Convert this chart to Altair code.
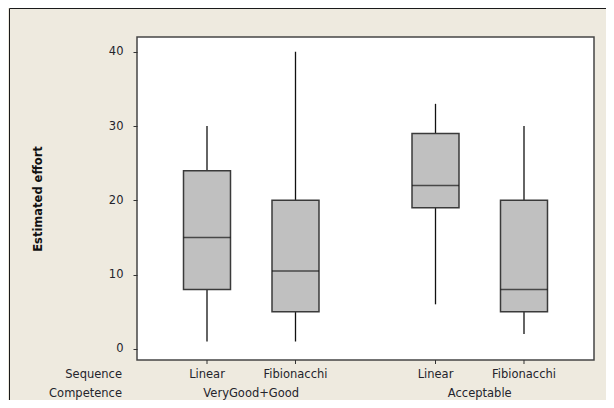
import altair as alt
import pandas as pd

# ---- data ----
competence = ["VeryGood+Good", "VeryGood+Good", "Acceptable", "Acceptable"]
sequence = ["Linear", "Fibionacchi", "Linear", "Fibionacchi"]
whisker_low = [1, 1, 6, 2]
q1 = [8, 5, 19, 5]
median = [15, 10.5, 22, 8]
q3 = [24, 20, 29, 20]
whisker_high = [30, 40, 33, 30]

comp_order = ["VeryGood+Good", "Acceptable"]
seq_order = ["Linear", "Fibionacchi"]
y_ticks = [0, 10, 20, 30, 40]
row_headers = ["Sequence", "Competence"]
y_title = "Estimated effort"

df = pd.DataFrame({
    "competence": competence,
    "sequence": sequence,
    "lo": whisker_low,
    "q1": q1,
    "median": median,
    "q3": q3,
    "hi": whisker_high,
})
comp_df = pd.DataFrame({"competence": comp_order})
one_df = pd.DataFrame({"k": [0]})

W, H = 457, 323
FONT = "DejaVu Sans"
TXT = "#24242c"
FS = 11.5

xenc = alt.X("competence:N", sort=comp_order, axis=None,
             scale=alt.Scale(domain=comp_order, paddingInner=0, paddingOuter=0))
xoff = alt.XOffset("sequence:N", sort=seq_order,
                   scale=alt.Scale(domain=seq_order, paddingInner=0.469, paddingOuter=0.5255))
yscale = alt.Scale(domain=[-1.5, 42], nice=False, zero=False)

base = alt.Chart(df)

whisk = base.mark_rule(color="#111111", strokeWidth=1.3).encode(
    x=xenc, xOffset=xoff,
    y=alt.Y("lo:Q", scale=yscale,
            axis=alt.Axis(values=y_ticks, title=y_title, domain=False, grid=False,
                          tickSize=4, tickColor="#333333", tickWidth=1,
                          labelFont=FONT, labelFontSize=FS, labelColor=TXT, labelPadding=10,
                          titleFont=FONT, titleFontSize=11.5, titleFontWeight="bold",
                          titleColor="#111111", titleAngle=270, titleAlign="center",
                          titleBaseline="bottom", titleX=-94, titleY=H / 2)),
    y2="hi:Q",
)

box = base.mark_bar(fill="#C0C0C0", stroke="#3a3a3a", strokeWidth=1.5).encode(
    x=xenc, xOffset=xoff, y="q1:Q", y2="q3:Q"
)

med = base.mark_tick(color="#151515", thickness=1.5, size=47).encode(
    x=xenc, xOffset=xoff, y="median:Q"
)

xticks = base.mark_rule(color="#333333", strokeWidth=1).encode(
    x=xenc, xOffset=xoff, y=alt.value(H), y2=alt.value(H + 4)
)

seq_text = base.mark_text(font=FONT, fontSize=FS, color=TXT, baseline="alphabetic").encode(
    x=xenc, xOffset=xoff, y=alt.value(H + 18), text="sequence:N"
)

comp_text = alt.Chart(comp_df).mark_text(font=FONT, fontSize=FS, color=TXT,
                                         baseline="alphabetic").encode(
    x=xenc, y=alt.value(H + 36.5), text="competence:N"
)

hdr1 = alt.Chart(one_df).mark_text(font=FONT, fontSize=FS, color=TXT, align="right",
                                   baseline="alphabetic").encode(
    x=alt.value(-15), y=alt.value(H + 18), text=alt.value(row_headers[0])
)
hdr2 = alt.Chart(one_df).mark_text(font=FONT, fontSize=FS, color=TXT, align="right",
                                   baseline="alphabetic").encode(
    x=alt.value(-15), y=alt.value(H + 36.5), text=alt.value(row_headers[1])
)

frame = alt.Chart(one_df).mark_rect(fillOpacity=0, stroke="#1a1a1a", strokeWidth=1).encode(
    x=alt.value(-127.5), x2=alt.value(W + 300), y=alt.value(-28.5), y2=alt.value(H + 300)
)

chart = alt.layer(whisk, box, med, xticks, seq_text, comp_text, hdr1, hdr2, frame).properties(
    width=W, height=H,
    autosize=alt.AutoSizeParams(type="none"),
    padding={"left": 129, "top": 29, "right": 12, "bottom": 40},
    background="#EEEADF",
).configure_view(
    fill="white", stroke="#454545", strokeWidth=1.5
)

chart.save("out.html", embed_options={"renderer": "svg", "actions": False})
